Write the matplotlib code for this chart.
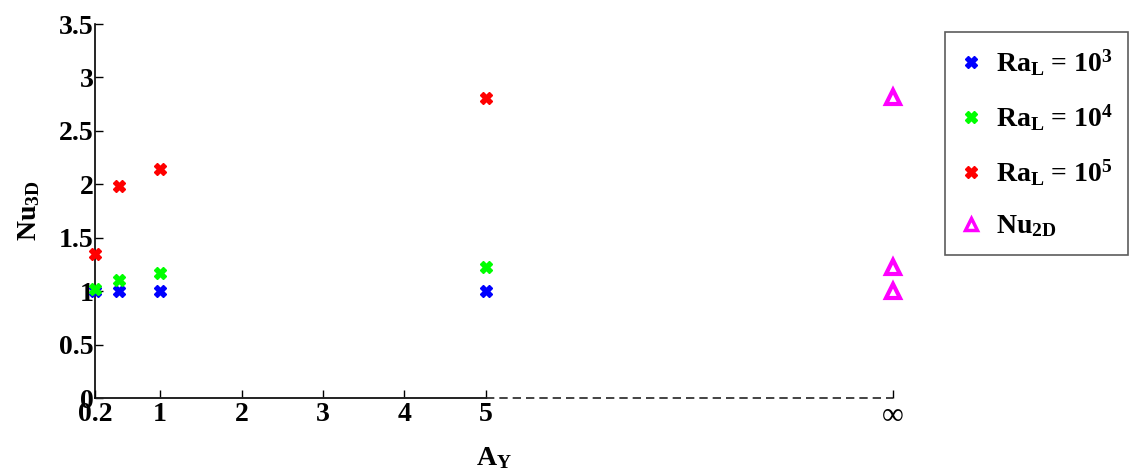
import matplotlib
matplotlib.use("Agg")
import matplotlib.pyplot as plt
from matplotlib.lines import Line2D

plt.rcParams['font.family'] = ['Liberation Serif', 'DejaVu Serif']
plt.rcParams['font.weight'] = 'bold'
plt.rcParams['mathtext.fontset'] = 'custom'
plt.rcParams['mathtext.rm'] = 'Liberation Serif:bold'
plt.rcParams['mathtext.bf'] = 'Liberation Serif:bold'
plt.rcParams['mathtext.it'] = 'Liberation Serif:bold'

# aspect ratio A_Y; the infinite case is placed at position 10 on the axis
aspect = [0.2, 0.5, 1, 5]
aspect_inf = 10
nu_ra3 = [1.00, 1.00, 1.00, 1.00]
nu_ra4 = [1.02, 1.10, 1.17, 1.23]
nu_ra5 = [1.35, 1.98, 2.14, 2.81]
nu_2d = [1.00, 1.23, 2.82]

xtick_pos = [0.2, 1, 2, 3, 4, 5, 10]
xtick_labels = ['0.2', '1', '2', '3', '4', '5', '\u221e']
ytick_pos = [0, 0.5, 1, 1.5, 2, 2.5, 3, 3.5]
ytick_labels = ['0', '0.5', '1', '1.5', '2', '2.5', '3', '3.5']

fig = plt.figure(figsize=(11.3, 4.73), dpi=100)
ax = fig.add_axes([95/1130, 1-398/473, (893-95)/1130, (398-24)/473])

ms = 9
ax.plot(aspect, nu_ra3, ls='none', marker='X', ms=ms, color='#0000ff', mec='#0000ff', clip_on=False, zorder=3)
ax.plot(aspect, nu_ra4, ls='none', marker='X', ms=ms, color='#00ff00', mec='#00ff00', clip_on=False, zorder=3)
ax.plot(aspect, nu_ra5, ls='none', marker='X', ms=ms, color='#ff0000', mec='#ff0000', clip_on=False, zorder=3)
ax.plot([aspect_inf]*len(nu_2d), nu_2d, ls='none', marker='^', ms=10, mfc='none',
        mec='#ff00ff', mew=3, clip_on=False, zorder=3)

ax.set_xlim(0.2, aspect_inf)
ax.set_ylim(0, 3.5)

for s in ['top', 'right', 'bottom']:
    ax.spines[s].set_visible(False)
ax.spines['left'].set_linewidth(1.2)

# x axis: solid up to 5, dashed towards infinity
ax.plot([0.2, 5], [0, 0], color='#222222', lw=1.4, clip_on=False, zorder=2)
ax.plot([5, aspect_inf], [0, 0], color='#222222', lw=1.2, ls=(0, (5, 3)), clip_on=False, zorder=2)

ax.set_xticks(xtick_pos)
ax.set_xticklabels(xtick_labels)
ax.set_yticks(ytick_pos)
ax.set_yticklabels(ytick_labels)
ax.tick_params(axis='both', direction='in', length=6, width=1.0, labelsize=20, pad=1)
ax.tick_params(axis='x', pad=3)
for lbl in ax.get_xticklabels():
    if lbl.get_text() == '\u221e':
        lbl.set_fontweight('normal')
        lbl.set_fontsize(22)

ax.set_xlabel(r'A$_{\rm Y}$', fontsize=20, fontweight='bold', labelpad=10)
ax.set_ylabel(r'Nu$_{\rm 3D}$', fontsize=20, fontweight='bold', labelpad=12)

handles = [
    Line2D([], [], ls='none', marker='X', ms=8, color='#0000ff'),
    Line2D([], [], ls='none', marker='X', ms=8, color='#00ff00'),
    Line2D([], [], ls='none', marker='X', ms=8, color='#ff0000'),
    Line2D([], [], ls='none', marker='^', ms=9, mfc='none', mec='#ff00ff', mew=2.5),
]
labels = [r'Ra$_{\rm L}$ = 10$^{3}$', r'Ra$_{\rm L}$ = 10$^{4}$',
          r'Ra$_{\rm L}$ = 10$^{5}$', r'Nu$_{\rm 2D}$']
leg = fig.legend(handles, labels, loc='upper left', bbox_to_anchor=(945/1130, 1-32/473),
                 bbox_transform=fig.transFigure, frameon=True, fancybox=False,
                 edgecolor='#333333', fontsize=20, handlelength=0.8, handletextpad=0.5,
                 labelspacing=0.9, borderpad=0.55, borderaxespad=0)
leg.get_frame().set_linewidth(1.2)

fig.savefig('out.png', dpi=100, facecolor='white')
